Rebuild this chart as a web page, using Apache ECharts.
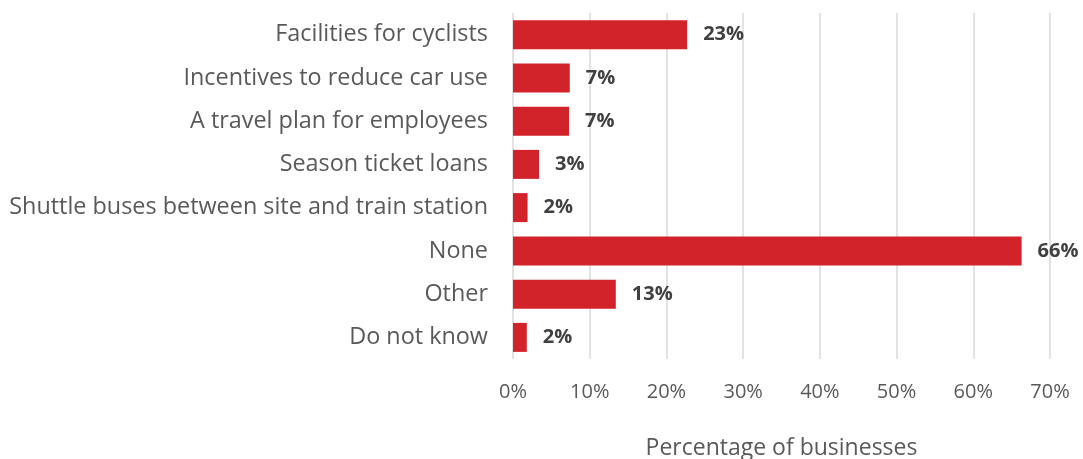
<!DOCTYPE html>
<html>
<head>
<meta charset="utf-8">
<script src="https://cdn.jsdelivr.net/npm/echarts@6/dist/echarts.min.js"></script>
<style>
  html, body { margin: 0; padding: 0; background: #ffffff; }
  #chart { width: 1083px; height: 459px; }
</style>
</head>
<body>
<div id="chart"></div>
<script>
// Workplace travel measures offered, share of businesses (%)
const categories = [
  'Facilities for cyclists',
  'Incentives to reduce car use',
  'A travel plan for employees',
  'Season ticket loans',
  'Shuttle buses between site and train station',
  'None',
  'Other',
  'Do not know'
];
const shares = [22.7, 7.4, 7.3, 3.4, 1.9, 66.3, 13.4, 1.8];
const xTicks = [0, 10, 20, 30, 40, 50, 60, 70];

const chart = echarts.init(document.getElementById('chart'));
const font = '"Open Sans", sans-serif';

chart.setOption({
  animation: false,
  grid: {
    left: 513, right: 33, top: 13, bottom: 100,
    containLabel: false, outerBoundsMode: 'none'
  },
  xAxis: {
    type: 'value',
    min: xTicks[0],
    max: xTicks[xTicks.length - 1],
    interval: 10,
    name: 'Percentage of businesses',
    nameLocation: 'middle',
    nameGap: 78,
    nameTextStyle: { color: '#595959', fontSize: 23, fontFamily: font },
    axisLine: { show: false },
    axisTick: { show: false },
    axisLabel: {
      color: '#595959', fontSize: 20, fontFamily: font, margin: 23,
      formatter: v => v + '%'
    },
    splitLine: { show: true, lineStyle: { color: '#d9d9d9', width: 1.5 } }
  },
  yAxis: {
    type: 'category',
    data: categories,
    inverse: true,
    axisLine: { show: false },
    axisTick: { show: false },
    axisLabel: { color: '#595959', fontSize: 23.4, fontFamily: font, margin: 25 }
  },
  series: [{
    type: 'bar',
    data: shares,
    barWidth: 29,
    itemStyle: { color: '#d2232a' },
    label: {
      show: true,
      position: 'right',
      distance: 16,
      color: '#404040',
      fontSize: 20,
      fontWeight: 'bold',
      fontFamily: font,
      formatter: p => Math.round(p.value) + '%'
    }
  }]
});
</script>
</body>
</html>
